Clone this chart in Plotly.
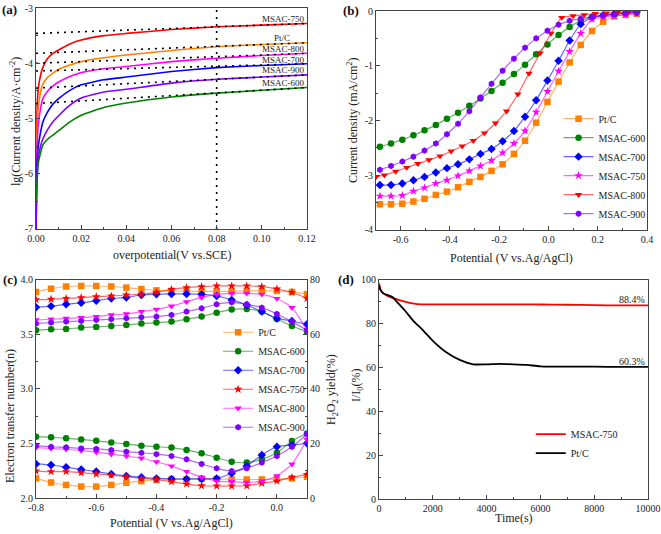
import plotly.graph_objects as go

FONT = "Liberation Serif, Times New Roman, serif"
AXC = "#444444"
C_ORANGE = "#FF8000"
C_GREEN = "#008000"
C_BLUE = "#0000FF"
C_MAGENTA = "#FF00FF"
C_RED = "#FF0000"
C_PURPLE = "#8000FF"

# ---------------- panel (a): Tafel-type curves ----------------
a_overpotential = [0, 0.0005, 0.001, 0.002, 0.003, 0.005, 0.0075, 0.01, 0.015, 0.02, 0.03, 0.04, 0.06, 0.08, 0.10, 0.12]
a_msac750 = [-5.9, -4.80, -4.45, -4.22, -4.08, -3.92, -3.82, -3.76, -3.65, -3.58, -3.50, -3.46, -3.39, -3.34, -3.31, -3.28]
a_ptc     = [-6.0, -5.15, -4.80, -4.52, -4.38, -4.26, -4.18, -4.11, -4.03, -3.97, -3.90, -3.85, -3.77, -3.70, -3.66, -3.63]
a_msac800 = [-6.2, -5.45, -5.12, -4.82, -4.64, -4.51, -4.41, -4.34, -4.24, -4.17, -4.10, -4.06, -3.97, -3.91, -3.86, -3.82]
a_msac700 = [-7.0, -5.80, -5.50, -5.25, -5.07, -4.89, -4.74, -4.64, -4.49, -4.39, -4.30, -4.25, -4.15, -4.08, -4.04, -4.01]
a_msac900 = [-7.0, -5.95, -5.72, -5.50, -5.37, -5.21, -5.06, -4.95, -4.76, -4.63, -4.52, -4.47, -4.36, -4.29, -4.25, -4.21]
a_msac600 = [-6.5, -6.10, -5.81, -5.62, -5.48, -5.38, -5.30, -5.22, -5.06, -4.94, -4.80, -4.72, -4.61, -4.54, -4.49, -4.44]
a_fit_x = [0.0, 0.12]
a_fit_start = [-3.46, -3.82, -4.00, -4.14, -4.45, -4.73]
a_fit_end = [-3.28, -3.63, -3.82, -4.01, -4.21, -4.44]
a_ref_overpotential = 0.08
a_names = ["MSAC-750", "Pt/C", "MSAC-800", "MSAC-700", "MSAC-900", "MSAC-600"]
a_label_x = [0.1098, 0.1090, 0.1098, 0.1098, 0.1098, 0.1098]
a_label_y = [-3.20, -3.54, -3.74, -3.94, -4.13, -4.35]
a_xticks = [0.0, 0.02, 0.04, 0.06, 0.08, 0.10, 0.12]
a_xticktext = ["0.00", "0.02", "0.04", "0.06", "0.08", "0.10", "0.12"]
a_yticks = [-7, -6, -5, -4, -3]
a_yticktext = ["-7", "-6", "-5", "-4", "-3"]

# ---------------- panel (b): LSV ----------------
b_potential = [-0.684, -0.639, -0.593, -0.548, -0.503, -0.457, -0.412, -0.367, -0.321, -0.276, -0.231, -0.186,
               -0.140, -0.095, -0.050, -0.004, 0.041, 0.086, 0.131, 0.177, 0.222, 0.267, 0.313, 0.358]
b_ptc     = [-3.53, -3.53, -3.52, -3.48, -3.43, -3.36, -3.30, -3.22, -3.12, -3.03, -2.92, -2.80,
             -2.61, -2.37, -2.04, -1.66, -1.29, -0.94, -0.62, -0.365, -0.195, -0.10, -0.07, -0.05]
b_msac600 = [-2.48, -2.42, -2.35, -2.27, -2.18, -2.08, -1.97, -1.86, -1.73, -1.60, -1.46, -1.31,
             -1.15, -0.98, -0.79, -0.61, -0.44, -0.29, -0.18, -0.11, -0.08, -0.06, -0.04, -0.02]
b_msac700 = [-3.18, -3.18, -3.15, -3.09, -3.03, -2.95, -2.87, -2.80, -2.71, -2.61, -2.52, -2.38,
             -2.19, -1.93, -1.63, -1.27, -0.91, -0.54, -0.24, -0.12, -0.08, -0.06, -0.04, -0.02]
b_msac750 = [-3.38, -3.38, -3.37, -3.29, -3.23, -3.15, -3.09, -3.01, -2.92, -2.83, -2.73, -2.59,
             -2.42, -2.19, -1.85, -1.47, -1.10, -0.74, -0.41, -0.15, -0.11, -0.09, -0.07, -0.04]
b_msac900 = [-2.90, -2.83, -2.75, -2.66, -2.55, -2.42, -2.25, -2.06, -1.83, -1.58, -1.33, -1.09,
             -0.87, -0.67, -0.50, -0.36, -0.25, -0.18, -0.14, -0.11, -0.08, -0.06, -0.04, -0.02]
b_potential_800 = [-0.700, -0.666, -0.620, -0.575, -0.530, -0.485, -0.440, -0.395, -0.350, -0.305, -0.260, -0.215,
                   -0.170, -0.124, -0.079, -0.034, 0.010, 0.054, 0.100, 0.145, 0.190, 0.235, 0.280, 0.325, 0.360]
b_msac800 = [-3.03, -3.00, -2.93, -2.86, -2.79, -2.72, -2.65, -2.56, -2.47, -2.37, -2.23, -2.05,
             -1.83, -1.52, -1.14, -0.77, -0.41, -0.12, -0.09, -0.07, -0.05, -0.04, -0.03, -0.02, -0.01]
b_xticks = [-0.6, -0.4, -0.2, 0.0, 0.2, 0.4]
b_xticktext = ["-0.6", "-0.4", "-0.2", "0.0", "0.2", "0.4"]
b_yticks = [-4, -3, -2, -1, 0]
b_yticktext = ["-4", "-3", "-2", "-1", "0"]

# ---------------- panel (c): RRDE n and H2O2 yield ----------------
c_potential = [-0.80, -0.75, -0.70, -0.65, -0.60, -0.55, -0.50, -0.45, -0.40, -0.35,
               -0.30, -0.25, -0.20, -0.15, -0.10, -0.05, 0.00, 0.05, 0.10]
c_n_ptc     = [3.89, 3.92, 3.94, 3.945, 3.945, 3.94, 3.93, 3.917, 3.905, 3.90,
               3.895, 3.895, 3.895, 3.895, 3.90, 3.90, 3.90, 3.89, 3.87]
c_n_msac600 = [3.54, 3.547, 3.55, 3.563, 3.569, 3.578, 3.587, 3.60, 3.609, 3.618,
               3.64, 3.664, 3.70, 3.73, 3.734, 3.71, 3.642, 3.578, 3.526]
c_n_msac700 = [3.75, 3.76, 3.777, 3.79, 3.81, 3.83, 3.84, 3.862, 3.87, 3.872,
               3.872, 3.868, 3.853, 3.817, 3.77, 3.71, 3.648, 3.624, 3.593]
c_n_msac750 = [3.82, 3.823, 3.83, 3.838, 3.847, 3.853, 3.862, 3.87, 3.887, 3.914,
               3.93, 3.939, 3.945, 3.945, 3.945, 3.939, 3.917, 3.887, 3.83]
c_n_msac800 = [3.633, 3.64, 3.648, 3.654, 3.664, 3.679, 3.688, 3.71, 3.73, 3.76,
               3.80, 3.84, 3.868, 3.878, 3.878, 3.868, 3.83, 3.746, 3.54]
c_n_msac900 = [3.60, 3.61, 3.618, 3.624, 3.633, 3.64, 3.648, 3.657, 3.664, 3.679,
               3.71, 3.74, 3.777, 3.795, 3.777, 3.746, 3.688, 3.618, 3.54]
c_h2o2_ptc     = [7.2, 5.7, 4.8, 4.2, 4.2, 4.8, 5.6, 6.2, 6.6, 6.8, 6.8, 7.0, 7.0, 6.8, 6.8, 6.8, 7.0, 7.2, 7.8]
c_h2o2_msac600 = [22.5, 22.3, 21.9, 21.5, 21.0, 20.4, 19.8, 19.2, 18.8, 18.5, 17.6, 16.4, 14.8, 13.3, 13.0, 14.2, 16.6, 20.9, 23.7]
c_h2o2_msac700 = [12.5, 12.1, 11.3, 10.5, 9.7, 8.8, 8.1, 7.6, 7.2, 7.0, 7.0, 7.0, 7.2, 9.1, 11.7, 15.8, 18.8, 19.4, 20.1]
c_h2o2_msac750 = [9.9, 9.7, 9.7, 9.3, 8.8, 8.4, 7.8, 7.2, 6.8, 6.0, 5.1, 4.5, 4.4, 4.4, 4.5, 5.4, 6.2, 7.6, 8.7]
c_h2o2_msac800 = [18.5, 18.2, 17.9, 17.4, 16.8, 16.1, 15.4, 14.6, 13.3, 11.7, 9.7, 7.6, 6.2, 6.0, 5.7, 6.2, 8.1, 12.4, 21.5]
c_h2o2_msac900 = [19.2, 18.8, 18.6, 18.2, 18.0, 17.6, 17.0, 16.6, 16.1, 15.4, 14.2, 12.5, 10.9, 9.9, 10.9, 13.0, 15.4, 18.8, 23.4]
c_xticks = [-0.8, -0.6, -0.4, -0.2, 0.0]
c_xticktext = ["-0.8", "-0.6", "-0.4", "-0.2", "0.0"]
c_yticks = [2.0, 2.5, 3.0, 3.5, 4.0]
c_yticktext = ["2.0", "2.5", "3.0", "3.5", "4.0"]
c_y2ticks = [0, 20, 40, 60, 80]

# ---------------- panel (d): chronoamperometry ----------------
d_time = [0, 50, 150, 300, 500, 700, 1000, 1300, 1600, 2000, 2500, 3000, 3500, 4000, 4500,
          5000, 5500, 6000, 7000, 8000, 9000, 10000]
d_msac750 = [98.5, 96.0, 94.0, 92.8, 91.8, 91.0, 90.0, 89.2, 88.9, 88.9, 88.9, 88.9, 88.9, 88.9, 88.9,
             88.9, 88.9, 88.8, 88.7, 88.5, 88.4, 88.4]
d_ptc = [97.5, 95.5, 94.0, 93.2, 92.2, 89.5, 85.5, 81.0, 77.5, 72.2, 67.0, 63.5, 61.5, 61.5, 61.7,
         61.5, 61.2, 60.6, 60.4, 60.4, 60.3, 60.3]
d_labels = ["88.4%", "60.3%"]
d_label_time = [9420, 9420]
d_label_val = [91.0, 62.8]
d_xticks = [0, 2000, 4000, 6000, 8000, 10000]
d_yticks = [0, 20, 40, 60, 80, 100]


def rgba(hexc, a):
    h = hexc.lstrip("#")
    return "rgba(%d,%d,%d,%.2f)" % (int(h[0:2], 16), int(h[2:4], 16), int(h[4:6], 16), a)


fig = go.Figure()

# panel (a)
a_series = [(a_msac750, C_RED), (a_ptc, C_ORANGE), (a_msac800, C_MAGENTA),
            (a_msac700, C_BLUE), (a_msac900, C_PURPLE), (a_msac600, C_GREEN)]
for (ys, col), nm in zip(a_series, a_names):
    fig.add_trace(go.Scatter(x=a_overpotential, y=ys, mode="lines", name=nm,
                             line=dict(color=col, width=1.6, shape="spline", smoothing=0.4),
                             xaxis="x", yaxis="y", showlegend=False))
for s, e in zip(a_fit_start, a_fit_end):
    fig.add_trace(go.Scatter(x=a_fit_x, y=[s, e], mode="lines",
                             line=dict(color="#000000", width=1.6, dash="2px,5px"),
                             xaxis="x", yaxis="y", showlegend=False, hoverinfo="skip"))
fig.add_trace(go.Scatter(x=[a_ref_overpotential, a_ref_overpotential], y=[a_yticks[0], a_yticks[-1]],
                         mode="lines", line=dict(color="#000000", width=1.6, dash="2px,5px"),
                         xaxis="x", yaxis="y", showlegend=False, hoverinfo="skip"))
for nm, lx, ly in zip(a_names, a_label_x, a_label_y):
    fig.add_annotation(x=lx, y=ly, xref="x", yref="y", text=nm, showarrow=False,
                       font=dict(family=FONT, size=9, color="#222"))

# panel (b)
b_series = [("Pt/C", b_potential, b_ptc, C_ORANGE, "square"),
            ("MSAC-600", b_potential, b_msac600, C_GREEN, "circle"),
            ("MSAC-700", b_potential, b_msac700, C_BLUE, "diamond"),
            ("MSAC-750", b_potential, b_msac750, C_MAGENTA, "star"),
            ("MSAC-800", b_potential_800, b_msac800, C_RED, "triangle-down"),
            ("MSAC-900", b_potential, b_msac900, C_PURPLE, "hexagon")]
for nm, xs, ys, col, sym in b_series:
    fig.add_trace(go.Scatter(x=xs, y=ys, mode="lines+markers", name=nm,
                             line=dict(color=rgba(col, 0.6), width=1.2, shape="spline", smoothing=0.4),
                             marker=dict(color=col, symbol=sym, size=6.5, line=dict(width=0)),
                             xaxis="x2", yaxis="y2", legend="legend"))

# panel (c)
c_series = [("Pt/C", c_n_ptc, c_h2o2_ptc, C_ORANGE, "square"),
            ("MSAC-600", c_n_msac600, c_h2o2_msac600, C_GREEN, "circle"),
            ("MSAC-700", c_n_msac700, c_h2o2_msac700, C_BLUE, "diamond"),
            ("MSAC-750", c_n_msac750, c_h2o2_msac750, C_RED, "star"),
            ("MSAC-800", c_n_msac800, c_h2o2_msac800, C_MAGENTA, "triangle-down"),
            ("MSAC-900", c_n_msac900, c_h2o2_msac900, C_PURPLE, "hexagon")]
for nm, ns, hs, col, sym in c_series:
    fig.add_trace(go.Scatter(x=c_potential, y=ns, mode="lines+markers", name=nm,
                             line=dict(color=rgba(col, 0.6), width=1.2, shape="spline", smoothing=0.6),
                             marker=dict(color=col, symbol=sym, size=6.5, line=dict(width=0)),
                             xaxis="x3", yaxis="y3", legend="legend2"))
    fig.add_trace(go.Scatter(x=c_potential, y=hs, mode="lines+markers", name=nm + " H2O2",
                             line=dict(color=rgba(col, 0.6), width=1.2, shape="spline", smoothing=0.6),
                             marker=dict(color=col, symbol=sym, size=6.5, line=dict(width=0)),
                             xaxis="x3", yaxis="y5", showlegend=False))

# panel (d)
fig.add_trace(go.Scatter(x=d_time, y=d_msac750, mode="lines", name="MSAC-750",
                         line=dict(color=C_RED, width=1.8, shape="spline", smoothing=0.6),
                         xaxis="x4", yaxis="y4", legend="legend3"))
fig.add_trace(go.Scatter(x=d_time, y=d_ptc, mode="lines", name="Pt/C",
                         line=dict(color="#000000", width=1.8, shape="spline", smoothing=0.6),
                         xaxis="x4", yaxis="y4", legend="legend3"))
for t, xv, yv in zip(d_labels, d_label_time, d_label_val):
    fig.add_annotation(x=xv, y=yv, xref="x4", yref="y4", text=t, showarrow=False,
                       font=dict(family=FONT, size=10, color="#222"))

tickfont = dict(family=FONT, size=10, color="#222")


def axis(domain, rng, tickvals, ticktext, minor_dtick, anchor, **kw):
    d = dict(domain=domain, range=rng, anchor=anchor, showline=True, linecolor=AXC, linewidth=1,
             mirror=True, ticks="inside", ticklen=4, tickcolor=AXC, tickwidth=1,
             tickmode="array", tickvals=tickvals, ticktext=ticktext, tickfont=tickfont,
             showgrid=False, zeroline=False, automargin=False,
             minor=dict(ticks="inside", ticklen=2, tickcolor=AXC, dtick=minor_dtick, showgrid=False))
    d.update(kw)
    return d


legend_font = dict(family=FONT, size=10, color="#222")
fig.update_layout(
    width=661, height=534,
    margin=dict(l=0, r=0, t=0, b=0, autoexpand=False),
    paper_bgcolor="white", plot_bgcolor="white",
    font=dict(family=FONT, size=10, color="#222"),
    xaxis=axis([0.0545, 0.4644], [0, 0.12], a_xticks, a_xticktext, 0.01, "y"),
    yaxis=axis([0.5712, 0.985], [-7, -3], a_yticks, a_yticktext, 0.5, "x"),
    xaxis2=axis([0.5688, 0.9788], [-0.7, 0.4], b_xticks, b_xticktext, 0.1, "y2"),
    yaxis2=axis([0.5693, 0.9794], [-4, 0], b_yticks, b_yticktext, 0.5, "x2"),
    xaxis3=axis([0.0545, 0.4644], [-0.8, 0.1], c_xticks, c_xticktext, 0.1, "y3"),
    yaxis3=axis([0.0674, 0.4757], [2.0, 4.0], c_yticks, c_yticktext, 0.25, "x3", mirror=False),
    yaxis5=axis([0.0674, 0.4757], [0, 80], c_y2ticks, [str(v) for v in c_y2ticks], 10, "x3",
                overlaying="y3", side="right", mirror=False),
    xaxis4=axis([0.5734, 0.9803], [0, 10000], d_xticks, [str(v) for v in d_xticks], 1000, "y4"),
    yaxis4=axis([0.0655, 0.4757], [0, 100], d_yticks, [str(v) for v in d_yticks], 10, "x4"),
    legend=dict(x=0.845, y=0.805, xanchor="left", yanchor="top", bgcolor="rgba(0,0,0,0)",
                font=legend_font, tracegroupgap=0, itemwidth=30),
    legend2=dict(x=0.330, y=0.405, xanchor="left", yanchor="top", bgcolor="rgba(0,0,0,0)",
                 font=legend_font, tracegroupgap=0, itemwidth=30),
    legend3=dict(x=0.803, y=0.214, xanchor="left", yanchor="top", bgcolor="rgba(0,0,0,0)",
                 font=legend_font, tracegroupgap=0, itemwidth=30),
)

# axis titles and panel labels
titles = [
    ("overpotential(V vs.SCE)", 0.2595, 0.5225, 0),
    ("lg(Current density/A·cm<sup>-2</sup>)", 0.0227, 0.7715, -90),
    ("Potential (V vs.Ag/AgCl)", 0.7738, 0.5169, 0),
    ("Current density (mA/cm<sup>2</sup>)", 0.534, 0.7753, -90),
    ("Potential (V vs.Ag/AgCl)", 0.2595, 0.0206, 0),
    ("Electron transfer number(n)", 0.0151, 0.221, -90),
    ("H<sub>2</sub>O<sub>2</sub> yield(%)", 0.5023, 0.2697, -90),
    ("Time(s)", 0.7769, 0.030, 0),
    ("I/I<sub>0</sub>(%)", 0.5401, 0.279, -90),
]
for txt, x, y, ang in titles:
    fig.add_annotation(x=x, y=y, xref="paper", yref="paper", text=txt, showarrow=False,
                       textangle=ang, xanchor="center", yanchor="middle",
                       font=dict(family=FONT, size=12, color="#222"))

panel_labels = [("(a)", 0.0151, 0.9813), ("(b)", 0.531, 0.981), ("(c)", 0.0144, 0.4757), ("(d)", 0.523, 0.4757)]
for txt, x, y in panel_labels:
    fig.add_annotation(x=x, y=y, xref="paper", yref="paper", text="<b>%s</b>" % txt, showarrow=False,
                       xanchor="center", yanchor="middle",
                       font=dict(family=FONT, size=13, color="#111"))

fig.write_html("out.html", config={"displayModeBar": False},
               post_script="document.body.style.margin='0px';")
